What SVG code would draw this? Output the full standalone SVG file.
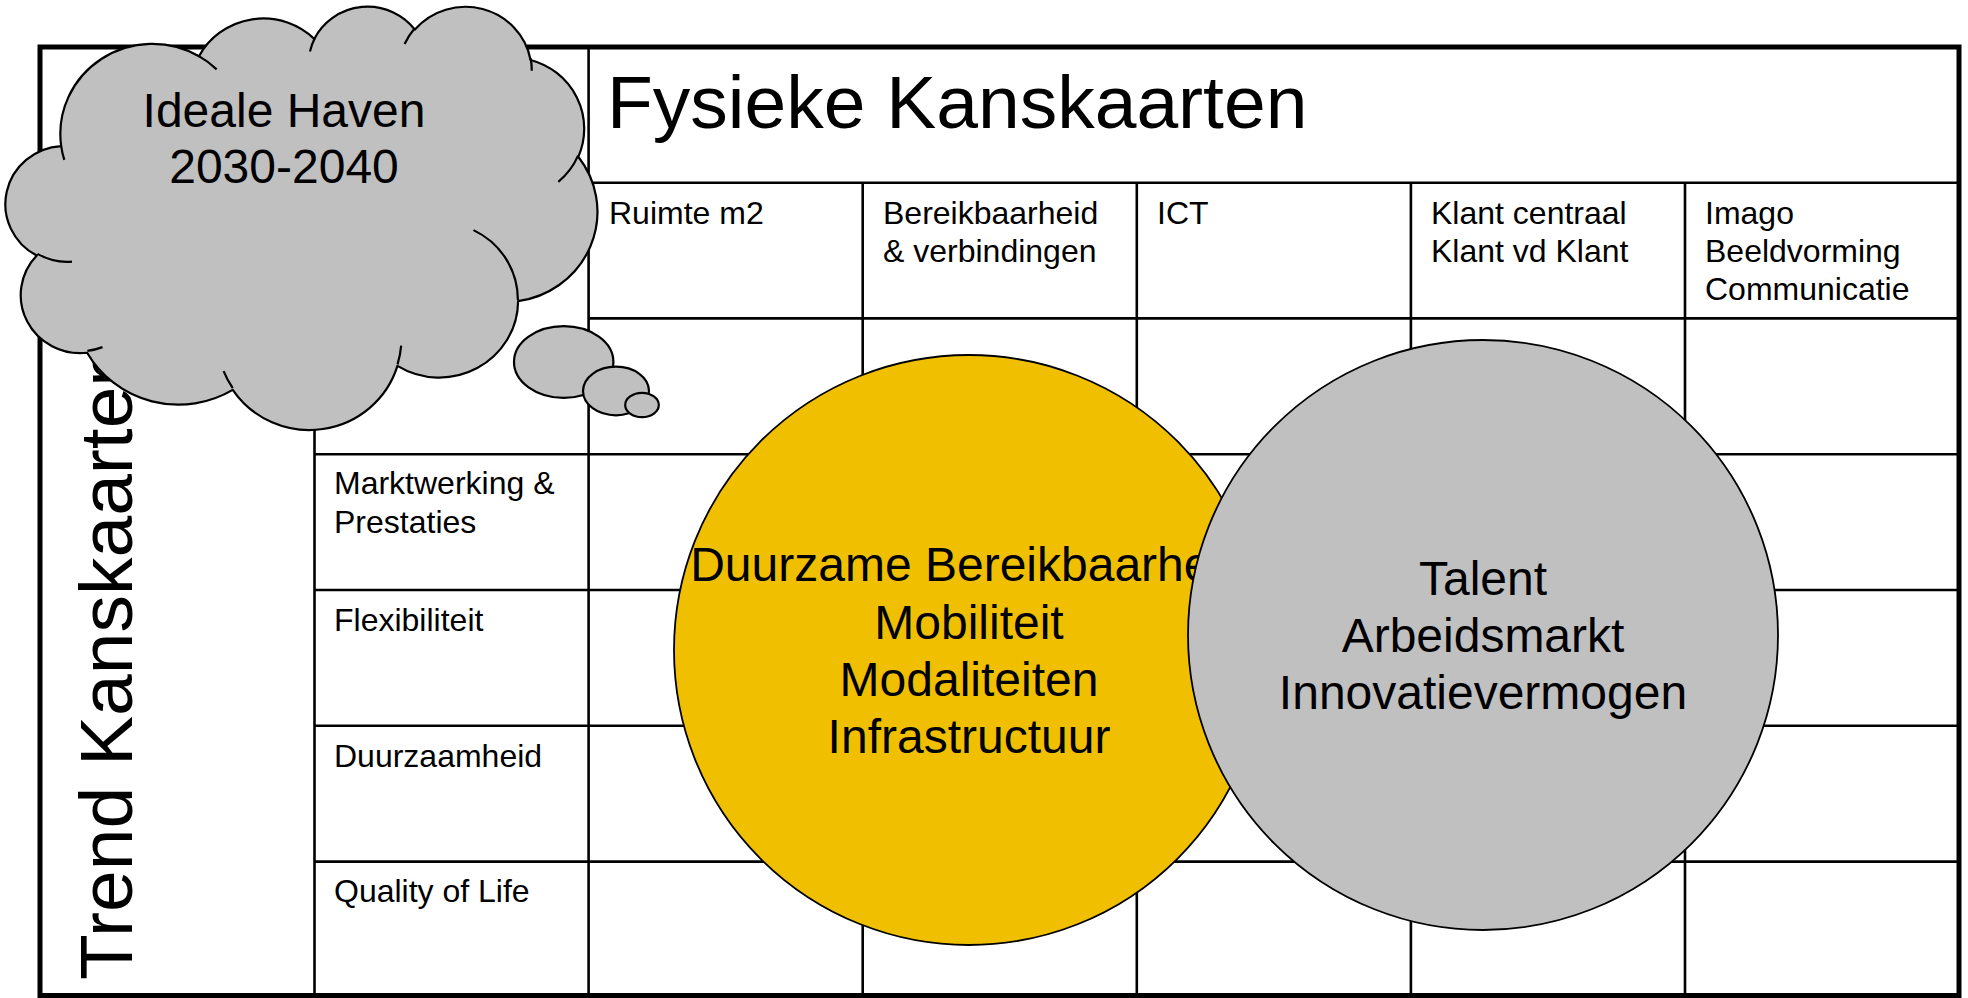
<svg xmlns="http://www.w3.org/2000/svg" width="1968" height="998" viewBox="0 0 1968 998">
  <style>
    .grid { stroke: #000; stroke-width: 2.6; fill: none; }
    .outer { stroke: #000; stroke-width: 5; fill: none; }
    .lbl { font-family: "Liberation Sans", Arial, sans-serif; font-size: 32px; fill: #000; }
    .big { font-family: "Liberation Sans", Arial, sans-serif; font-size: 75px; fill: #000; }
    .mid { font-family: "Liberation Sans", Arial, sans-serif; font-size: 48px; fill: #000; text-anchor: middle; }
    .shape { stroke: #000; stroke-width: 1.8; }
    .cloudfill { fill: #C0C0C0; stroke: #000; stroke-width: 2.2; stroke-linejoin: round; }
    .cloudline { fill: none; stroke: #000; stroke-width: 2.2; }
  </style>
  <rect width="1968" height="998" fill="#fff"/>

  <g id="table">
    <rect class="outer" x="40" y="47" width="1919" height="948.5"/>
    <line class="grid" x1="588.6" y1="182.7" x2="1959" y2="182.7"/>
    <line class="grid" x1="588.6" y1="318.4" x2="1959" y2="318.4"/>
    <line class="grid" x1="314.5" y1="454.2" x2="1959" y2="454.2"/>
    <line class="grid" x1="314.5" y1="590" x2="1959" y2="590"/>
    <line class="grid" x1="314.5" y1="725.8" x2="1959" y2="725.8"/>
    <line class="grid" x1="314.5" y1="861.6" x2="1959" y2="861.6"/>
    <line class="grid" x1="314.5" y1="318.4" x2="314.5" y2="995.5"/>
    <line class="grid" x1="588.6" y1="47" x2="588.6" y2="995.5"/>
    <line class="grid" x1="862.7" y1="182.7" x2="862.7" y2="995.5"/>
    <line class="grid" x1="1136.8" y1="182.7" x2="1136.8" y2="995.5"/>
    <line class="grid" x1="1410.9" y1="182.7" x2="1410.9" y2="995.5"/>
    <line class="grid" x1="1685" y1="182.7" x2="1685" y2="995.5"/>
  </g>

  <g id="header-fysieke">
    <text class="big" x="607" y="128">Fysieke Kanskaarten</text>
  </g>
  <g id="header-trend">
    <text class="big" transform="translate(132,980) rotate(-90)" x="0" y="0">Trend Kanskaarten</text>
  </g>

  <g id="col-ruimte"><text class="lbl" x="609" y="223.5">Ruimte m2</text></g>
  <g id="col-bereikbaarheid">
    <text class="lbl" x="883" y="223.5">Bereikbaarheid</text>
    <text class="lbl" x="883" y="261.5">&amp; verbindingen</text>
  </g>
  <g id="col-ict"><text class="lbl" x="1157" y="223.5">ICT</text></g>
  <g id="col-klant">
    <text class="lbl" x="1431" y="223.5">Klant centraal</text>
    <text class="lbl" x="1431" y="261.5">Klant vd Klant</text>
  </g>
  <g id="col-imago">
    <text class="lbl" x="1705" y="223.5">Imago</text>
    <text class="lbl" x="1705" y="261.5">Beeldvorming</text>
    <text class="lbl" x="1705" y="299.5">Communicatie</text>
  </g>

  <g id="row-marktwerking">
    <text class="lbl" x="334" y="494">Marktwerking &amp;</text>
    <text class="lbl" x="334" y="532.5">Prestaties</text>
  </g>
  <g id="row-flexibiliteit"><text class="lbl" x="334" y="630.5">Flexibiliteit</text></g>
  <g id="row-duurzaamheid"><text class="lbl" x="334" y="766.5">Duurzaamheid</text></g>
  <g id="row-quality"><text class="lbl" x="334" y="902">Quality of Life</text></g>

  <g id="circle-bereikbaarheid">
    <circle class="shape" cx="969" cy="650" r="295" fill="#F0C000"/>
    <text class="mid" x="969" y="581">Duurzame Bereikbaarheid</text>
    <text class="mid" x="969" y="638.5">Mobiliteit</text>
    <text class="mid" x="969" y="696">Modaliteiten</text>
    <text class="mid" x="969" y="753">Infrastructuur</text>
  </g>

  <g id="circle-talent">
    <circle class="shape" cx="1483" cy="635" r="295" fill="#C0C0C0"/>
    <text class="mid" x="1483" y="595">Talent</text>
    <text class="mid" x="1483" y="652">Arbeidsmarkt</text>
    <text class="mid" x="1483" y="709">Innovatievermogen</text>
  </g>

  <g id="cloud-ideale-haven">
    <path class="cloudfill" d="M 61.19 146.04 A 92.10 90.01 0 0 1 199.01 56.24 A 72.74 71.17 0 0 1 314.27 38.91 A 59.53 58.23 0 0 1 414.89 29.59 A 66.24 64.59 0 0 1 530.58 59.96 A 72.74 71.23 0 0 1 578.32 156.76 A 92.40 90.30 0 0 1 518.11 301.17 A 78.90 77.05 0 0 1 397.43 365.91 A 92.09 90.25 0 0 1 232.73 389.91 A 105.29 103.26 0 0 1 87.12 352.75 A 59.47 57.96 0 0 1 36.77 255.58 A 59.26 58.23 0 0 1 61.19 146.04 Z"/>
    <path class="cloudline" d="M 72.01 261.68 A 59.26 58.23 0 0 1 37.46 253.88 M 102.49 347.10 A 59.47 57.96 0 0 1 87.37 350.84 M 232.74 388.15 A 92.09 90.25 0 0 1 223.63 371.10 M 401.17 345.65 A 92.09 90.25 0 0 1 397.53 364.35 M 473.48 230.12 A 78.90 77.05 0 0 1 517.84 300.01 M 578.08 155.68 A 72.74 71.23 0 0 1 558.33 181.89 M 530.70 58.44 A 66.24 64.59 0 0 1 531.74 70.82 M 404.60 44.01 A 66.24 64.59 0 0 1 414.76 28.17 M 309.98 51.53 A 59.53 58.23 0 0 1 314.88 37.92 M 198.95 56.15 A 92.10 90.01 0 0 1 216.68 69.36 M 64.29 159.94 A 92.10 90.01 0 0 1 61.19 146.04"/>
    <text class="mid" x="284" y="126.5">Ideale Haven</text>
    <text class="mid" x="284" y="183">2030-2040</text>
    <ellipse class="cloudfill" cx="563.7" cy="362" rx="49.7" ry="35.8"/>
    <ellipse class="cloudfill" cx="616" cy="391" rx="33" ry="24.3"/>
    <ellipse class="cloudfill" cx="642" cy="405" rx="16.8" ry="12.2"/>
  </g>

  <g id="connectors"></g>
</svg>
